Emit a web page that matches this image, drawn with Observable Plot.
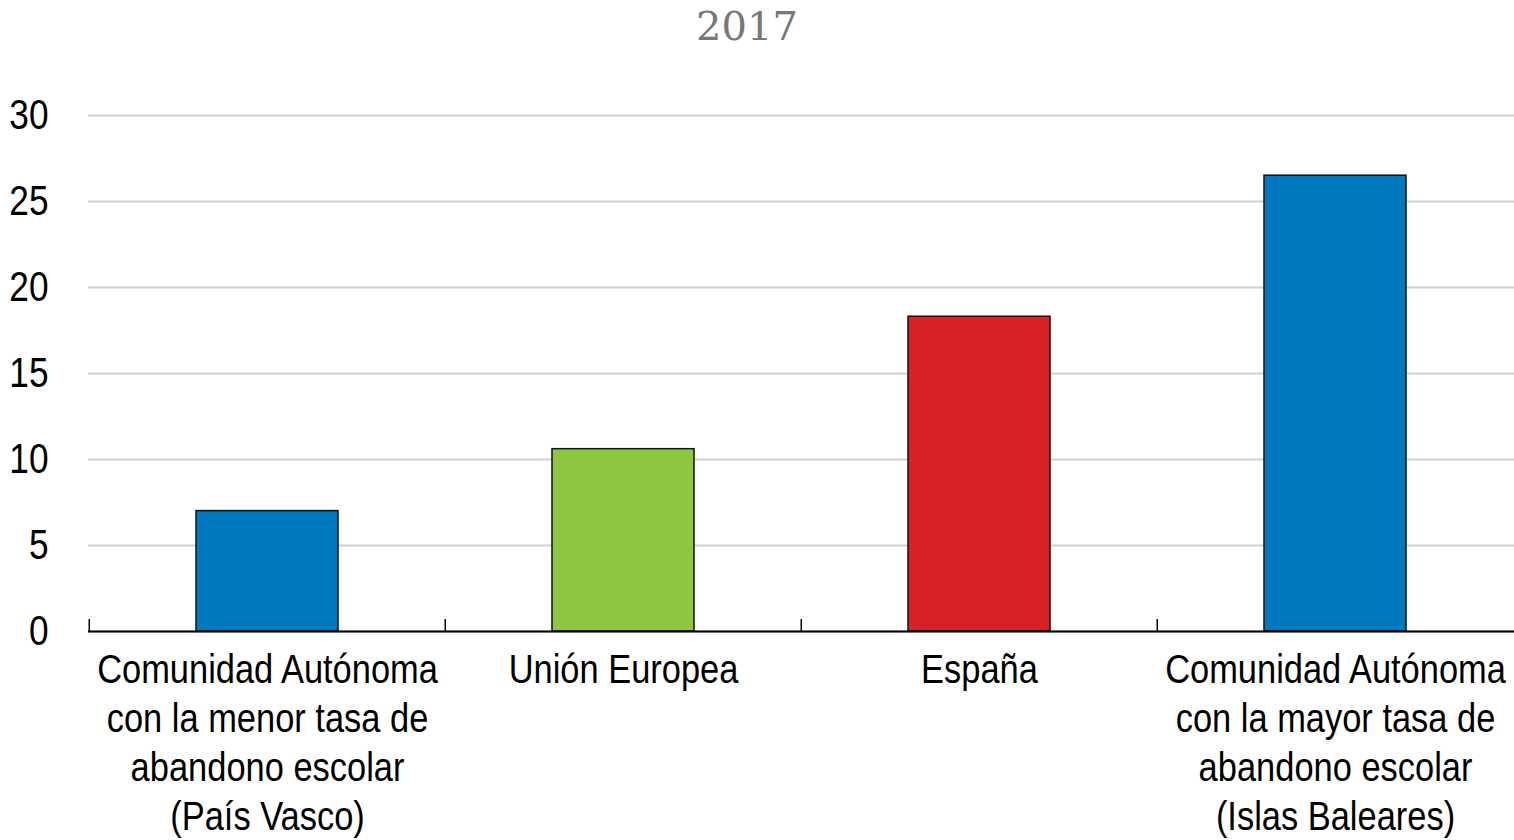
<!DOCTYPE html>
<html>
<head>
<meta charset="utf-8">
<script src="https://cdn.jsdelivr.net/npm/d3@7"></script>
<script src="https://cdn.jsdelivr.net/npm/@observablehq/plot@0.6"></script>
<style>
  html, body { margin: 0; padding: 0; background: #fff; }
  #title { width: 1494px; height: 60px; text-align: center; font-family: Georgia, "DejaVu Serif", "Liberation Serif", serif; font-size: 40px; color: #777; line-height: 52px; }
  svg { display: block; }
</style>
</head>
<body>
<div id="title">2017</div>
<div id="chart"></div>
<script>
const categories = [
  "Comunidad Autónoma\ncon la menor tasa de\nabandono escolar\n(País Vasco)",
  "Unión Europea",
  "España",
  "Comunidad Autónoma\ncon la mayor tasa de\nabandono escolar\n(Islas Baleares)"
];
const values = [7.0, 10.6, 18.3, 26.5];
const colors = ["#0279be", "#8dc63f", "#d92228", "#0279be"];
const yTicks = [0, 5, 10, 15, 20, 25, 30];

const data = categories.map((c, i) => ({cat: c, value: values[i], color: colors[i]}));

const width = 1514, marginLeft = 88, marginRight = 0;
const step = (width - marginLeft - marginRight) / categories.length;
const condense = 0.84;

const chart = Plot.plot({
  width,
  height: 780,
  marginLeft,
  marginRight,
  marginTop: 55,
  marginBottom: 209,
  style: {fontFamily: "'Liberation Sans', Arial, sans-serif", color: "#000"},
  x: {domain: categories, paddingInner: 0.6, paddingOuter: 0.3, align: 0.5},
  y: {domain: [0, 30]},
  color: {type: "identity"},
  marks: [
    Plot.gridY(yTicks, {stroke: "#cfcfcf", strokeOpacity: 1, strokeWidth: 2}),
    Plot.axisY(yTicks, {tickSize: 0, tickPadding: 40, fontSize: 42, label: null, ariaLabel: "y-axis tick label"}),
    Plot.barY(data, {x: "cat", y: "value", fill: "color", stroke: "#111", strokeWidth: 1.5}),
    Plot.ruleY([0], {stroke: "#000", strokeWidth: 2}),
    Plot.ruleX(categories, {x: d => d, dx: -step / 2, y1: 0, y2: 0.7, stroke: "#000", strokeWidth: 1.5}),
    Plot.axisX({tickSize: 0, tickPadding: 17, fontSize: 41, lineHeight: 1.195, label: null})
  ]
});
document.getElementById("chart").append(chart);

// condense axis label text horizontally (narrow sans look), keeping each anchor point
chart.querySelectorAll("g[aria-label$='tick label']").forEach(g => {
  const isY = g.getAttribute("aria-label").startsWith("y");
  g.querySelectorAll("text").forEach(t => {
    const b = t.getBBox();
    const cx = isY ? b.x + b.width : b.x + b.width / 2;
    const tr = t.getAttribute("transform") || "";
    t.setAttribute("transform", `${tr} translate(${cx},0) scale(${condense},1) translate(${-cx},0)`);
  });
});
</script>
</body>
</html>
